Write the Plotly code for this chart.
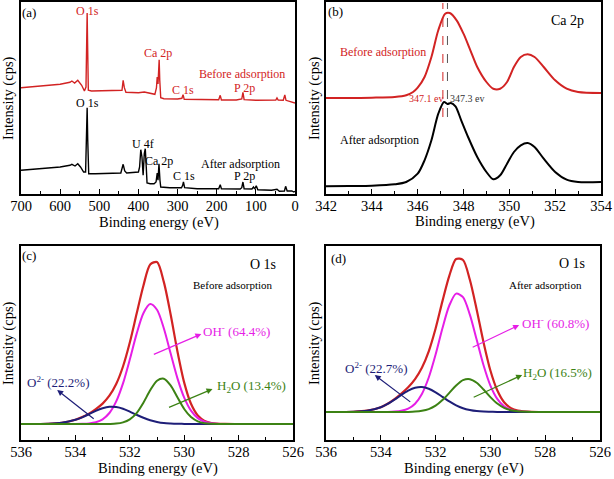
import plotly.graph_objects as go

FONT = "Liberation Serif"
RED = "#d22323"
MAGENTA = "#e61ee6"
GREEN = "#3c8214"
NAVY = "#1e1e78"

# ---------------- (a) survey spectra ----------------
survey_e_before = [700, 650, 600, 575, 570, 563, 555, 545, 538, 534, 532, 531, 530, 528, 520, 500, 460, 442, 439, 436,
                   432, 400, 385, 370, 358, 354, 352, 350, 348, 347, 345.5, 343, 335, 300, 289, 286, 283, 250, 195,
                   191, 188, 150, 136, 133, 130, 100, 60, 49, 46, 43, 30, 26, 23, 10, 0]
survey_before = [105.3, 106.7, 108.7, 110.7, 112, 110, 112.7, 107.7, 102, 106, 159, 180, 152.7, 102.7, 102, 102, 102,
                 102.7, 112.7, 105.3, 100.7, 100.3, 101, 99.7, 98.7, 105, 116, 109, 119, 133.3, 112.7, 95.3, 94.3,
                 94, 94.7, 98.3, 93.7, 93.3, 93.3, 97.7, 93, 93, 94, 100.7, 93.3, 92.7, 92.7, 93, 95, 93, 92.7, 98,
                 92.7, 91, 90]

survey_e_after = [700, 650, 600, 575, 570, 562, 555, 548, 540, 535, 532.5, 531, 529.5, 527, 510, 470, 445, 439, 435,
                  430, 410, 400, 397, 394, 391, 388, 385, 382.5, 380, 378, 370, 360, 355, 352, 350, 347.5, 345, 343,
                  320, 290, 287, 285, 282, 250, 195, 191, 188, 140, 136, 133, 130, 110, 106, 103, 99, 95, 60, 46, 40,
                  27, 24, 20, 8, 3, 0]
survey_after = [22.7, 24.3, 26, 27.7, 28.7, 27, 29.3, 26, 21, 21, 59.3, 85.3, 52.7, 19.3, 19.3, 19.3, 20, 28.7, 22,
                20, 20.7, 21, 26, 43.3, 36, 17.7, 39.3, 44.3, 26, 10, 9.3, 9.3, 11, 20, 12.7, 29.3, 12.7, 6, 5.3,
                5.3, 7.7, 11, 5.3, 4.3, 4.3, 8.3, 4.3, 4, 5.3, 11, 4.3, 4, 6, 4, 7.3, 3.3, 2.7, 3.7, 1.7, 2, 6.7, 2,
                2, 1, 1.7]

# ---------------- (b) Ca 2p ----------------
ca_e_before = [342, 343, 344, 345, 345.5, 345.8, 346, 346.3, 346.6, 346.9, 347.2, 347.4, 347.7, 348, 348.3, 348.6,
               349, 349.3, 349.6, 349.9, 350.2, 350.5, 350.8, 351.1, 351.5, 352, 352.5, 353, 354]
ca_before = [95, 95, 95.3, 96, 97.7, 101, 105.3, 116, 136, 162.7, 179.3, 180, 172.7, 159.3, 142.7, 126, 111, 104.3,
             104.3, 111, 126, 136, 138.7, 136, 126, 112.7, 104.3, 101, 100]
ca_e_after = [342, 343, 344, 345, 345.5, 346, 346.3, 346.6, 346.9, 347.15, 347.3, 347.45, 347.65, 347.9, 348.2, 348.6,
              349, 349.3, 349.6, 349.9, 350.2, 350.5, 350.8, 351.1, 351.5, 352, 352.5, 353, 354]
ca_after = [6.7, 7, 7.3, 8.7, 11, 19.3, 32.7, 52.7, 79.3, 91, 89, 90, 86.7, 72.7, 56, 36, 21, 13.7, 17.7, 29.3, 41,
            47.7, 50, 46, 34.3, 21, 13.3, 11, 11]
ca_peak_positions = [347.1, 347.3]
ca_peak_labels = ["347.1 ev", "347.3 ev"]

# ---------------- (c), (d) O 1s fits ----------------
o1s_e = [536, 535.5, 535, 534.5, 534, 533.75, 533.5, 533.25, 533, 532.75, 532.5, 532.25, 532, 531.75, 531.5, 531.25,
         531, 530.75, 530.5, 530.25, 530, 529.75, 529.5, 529.25, 529, 528.5, 528, 527, 526]

c_envelope = [16, 16, 16.2, 17.2, 20.2, 22.9, 26.4, 30.9, 36.4, 44.3, 56, 73.5, 97.5, 126.2, 154.3, 175.5, 178, 158.1,
              125.8, 88.8, 57.4, 36.2, 24.5, 19.1, 17, 16.1, 16, 16, 16]
c_oh = [16, 16, 16, 16, 16, 16.2, 16.6, 17.8, 20.7, 27, 38.6, 56.6, 80.5, 106.1, 126.8, 135.9, 130.2, 111.8, 86.7,
        61.9, 42.3, 29.3, 21.9, 18.3, 16.8, 16, 16, 16, 16]
c_h2o = [16, 16, 16, 16, 16, 16, 16, 16, 16, 16.1, 16.4, 17.6, 20.6, 26.9, 37.3, 49.7, 59.3, 61.3, 54.6, 42.7, 31,
         22.9, 18.6, 16.8, 16.2, 16, 16, 16, 16]
c_o2 = [16, 16, 16.2, 17.2, 20.2, 22.7, 25.8, 29.1, 31.7, 33.2, 33, 31.3, 28.4, 25.2, 22.2, 19.7, 18.1, 17, 16.5,
        16.2, 16.1, 16, 16, 16, 16, 16, 16, 16, 16]

d_envelope = [28, 28, 28.2, 29.3, 32.8, 36.2, 40.8, 46.4, 52.7, 60.9, 72.3, 88.7, 111.5, 138.9, 164.2, 181, 180,
              160.2, 130.3, 97.6, 69.5, 49.7, 37.8, 31.9, 29.4, 28.1, 28, 28, 28]
d_oh = [28, 28, 28, 28, 28, 28.1, 28.4, 29.2, 31.3, 36.3, 46.1, 62.5, 85.5, 111.8, 134.5, 146.4, 142.9, 125.4, 100.2,
        74.7, 54.4, 41.1, 33.6, 30.1, 28.7, 28, 28, 28, 28]
d_h2o = [28, 28, 28, 28, 28, 28, 28, 28, 28.1, 28.4, 29.2, 30.9, 34.3, 39.9, 47.1, 54.5, 59.8, 60.8, 57.2, 50.5, 42.9,
         36.5, 32.2, 29.8, 28.7, 28.1, 28, 28, 28]
d_o2 = [28, 28, 28.2, 29.3, 32.8, 36.1, 40.4, 45.1, 49.3, 52.2, 53, 51.3, 47.7, 43.2, 38.6, 34.7, 31.8, 30, 28.9,
        28.4, 28.2, 28, 28, 28, 28, 28, 28, 28, 28]

c_labels = ["OH<sup>-</sup> (64.4%)", "H<sub>2</sub>O (13.4%)", "O<sup>2-</sup> (22.2%)"]
d_labels = ["OH<sup>-</sup> (60.8%)", "H<sub>2</sub>O (16.5%)", "O<sup>2-</sup> (22.7%)"]

fig = go.Figure()

def line(x, y, color, xa, ya, width=1.6, shape="linear", dash="solid"):
    fig.add_trace(go.Scatter(x=x, y=y, mode="lines", xaxis=xa, yaxis=ya, showlegend=False, hoverinfo="skip",
                             line=dict(color=color, width=width, shape=shape, dash=dash, smoothing=0.8)))

# (a)
line(survey_e_before, survey_before, RED, "x", "y", 1.4)
line(survey_e_after, survey_after, "black", "x", "y", 1.4)
# (b)
line(ca_e_before, ca_before, RED, "x2", "y2", 2, "spline")
line(ca_e_after, ca_after, "black", "x2", "y2", 2, "spline")
line([ca_peak_positions[0]] * 2, [76, 190], RED, "x2", "y2", 1, dash="dash")
line([ca_peak_positions[1]] * 2, [76, 190], "#555555", "x2", "y2", 1, dash="dash")
# (c)
line(o1s_e, c_envelope, RED, "x3", "y3", 2.2, "spline")
line(o1s_e, c_oh, MAGENTA, "x3", "y3", 2, "spline")
line(o1s_e, c_o2, NAVY, "x3", "y3", 2, "spline")
line(o1s_e, c_h2o, GREEN, "x3", "y3", 2, "spline")
# (d)
line(o1s_e, d_envelope, RED, "x4", "y4", 2.2, "spline")
line(o1s_e, d_oh, MAGENTA, "x4", "y4", 2, "spline")
line(o1s_e, d_o2, NAVY, "x4", "y4", 2, "spline")
line(o1s_e, d_h2o, GREEN, "x4", "y4", 2, "spline")

W, H = 614, 479
def px(a, b):
    return [a / W, b / W]
def py(top, bottom):
    return [1 - bottom / H, 1 - top / H]

def xaxis(dom, rng, dtick, minor, anchor):
    return dict(domain=dom, range=rng, dtick=dtick, anchor=anchor, showline=True, linecolor="black", linewidth=1.5,
                mirror=True, ticks="inside", ticklen=5, tickwidth=1.2, tickcolor="black", automargin=False,
                ticklabeloverflow="allow", ticklabelstandoff=-2,
                minor=dict(ticks="inside", ticklen=3, dtick=minor, tickcolor="black"),
                showgrid=False, zeroline=False, tickfont=dict(family=FONT, size=14.5, color="black"))

def yaxis(dom, rng, anchor):
    return dict(domain=dom, range=rng, anchor=anchor, showline=True, linecolor="black", linewidth=1.5, mirror=True,
                ticks="", showticklabels=False, showgrid=False, zeroline=False, automargin=False)

fig.update_layout(
    width=W, height=H, margin=dict(l=0, r=0, t=0, b=0), paper_bgcolor="white", plot_bgcolor="white",
    xaxis=xaxis(px(21, 295), [700, 0], 100, 50, "y"),
    yaxis=yaxis(py(2, 194), [-1, 191], "x"),
    xaxis2=xaxis(px(326, 601), [342, 354], 2, 1, "y2"),
    yaxis2=yaxis(py(2, 194), [-1, 191], "x2"),
    xaxis3=xaxis(px(21, 293), [536, 526], 2, 1, "y3"),
    yaxis3=yaxis(py(246, 440), [0, 194], "x3"),
    xaxis4=xaxis(px(326, 600), [536, 526], 2, 1, "y4"),
    yaxis4=yaxis(py(246, 440), [0, 194], "x4"),
)

ann = []
def txt(x, y, t, xa, ya, color="black", size=12, xanchor="center"):
    ann.append(dict(x=x, y=y, text=t, xref=xa, yref=ya, showarrow=False, xanchor=xanchor, yanchor="middle",
                    font=dict(family=FONT, size=size, color=color)))

def arrow(x, y, ax, ay, color, xa, ya):
    ann.append(dict(x=x, y=y, ax=ax, ay=ay, xref=xa, yref=ya, axref="pixel", ayref="pixel", text="",
                    showarrow=True, arrowhead=2, arrowsize=1, arrowwidth=1.2, arrowcolor=color))

def paper_txt(xp, yp, t, size, angle=0):
    ann.append(dict(x=xp / W, y=1 - yp / H, xref="paper", yref="paper", text=t, textangle=angle,
                    xanchor="center", yanchor="middle", showarrow=False,
                    font=dict(family=FONT, size=size, color="black")))

# axis titles
for xp, yp in [(8, 98), (314, 98), (8, 343), (314, 343)]:
    paper_txt(xp, yp, "Intensity (cps)", 14.5, -90)
for xp, yp in [(159, 222), (475, 221), (158, 468), (464, 468)]:
    paper_txt(xp, yp, "Binding energy (eV)", 14.5)

# (a)
txt(679, 180, "(a)", "x", "y", size=13)
txt(529, 182, "O 1s", "x", "y", RED)
txt(350, 140, "Ca 2p", "x", "y", RED)
txt(135, 119, "Before adsorption", "x", "y", RED)
txt(286, 103, "C 1s", "x", "y", RED)
txt(128, 105, "P 2p", "x", "y", RED)
txt(529, 90, "O 1s", "x", "y")
txt(388, 49, "U 4f", "x", "y")
txt(347, 32, "Ca 2p", "x", "y")
txt(138, 29, "After adsorption", "x", "y")
txt(284, 17, "C 1s", "x", "y")
txt(128, 17, "P 2p", "x", "y")
# (b)
txt(342.43, 181, "(b)", "x2", "y2", size=13)
txt(352.52, 172, "Ca 2p", "x2", "y2", size=14)
txt(344.48, 141, "Before adsorption", "x2", "y2", RED)
txt(344.35, 53, "After adsorption", "x2", "y2")
txt(346.35, 94, ca_peak_labels[0], "x2", "y2", RED, 10)
txt(348.17, 94, ca_peak_labels[1], "x2", "y2", "#333333", 10)
# (c)
txt(535.7, 185, "(c)", "x3", "y3", size=13)
txt(527.1, 176, "O 1s", "x3", "y3", size=14)
txt(528.22, 155, "Before adsorption", "x3", "y3", size=11)
txt(528.09, 109, c_labels[0], "x3", "y3", MAGENTA, 13)
txt(527.53, 54, c_labels[1], "x3", "y3", GREEN, 13)
txt(534.64, 58, c_labels[2], "x3", "y3", NAVY, 13)
arrow(529.37, 106, -49, 21, MAGENTA, "x3", "y3")
arrow(528.96, 51, -45, 19, GREEN, "x3", "y3")
arrow(534.67, 50, 38, 30, NAVY, "x3", "y3")
# (d)
txt(535.53, 182, "(d)", "x4", "y4", size=13)
txt(527.02, 177, "O 1s", "x4", "y4", size=14)
txt(528.0, 155, "After adsorption", "x4", "y4", size=11)
txt(527.64, 117, d_labels[0], "x4", "y4", MAGENTA, 13)
txt(527.56, 67, d_labels[1], "x4", "y4", GREEN, 13)
txt(534.18, 72, d_labels[2], "x4", "y4", NAVY, 13)
arrow(528.95, 115, -48, 23, MAGENTA, "x4", "y4")
arrow(528.84, 65, -50, 23, GREEN, "x4", "y4")
arrow(534.22, 65, 37, 28, NAVY, "x4", "y4")

fig.update_layout(annotations=ann, hovermode=False)
fig.write_html("out.html", config={"displayModeBar": False},
               post_script="document.body.style.margin='0';document.body.style.overflow='hidden';")
